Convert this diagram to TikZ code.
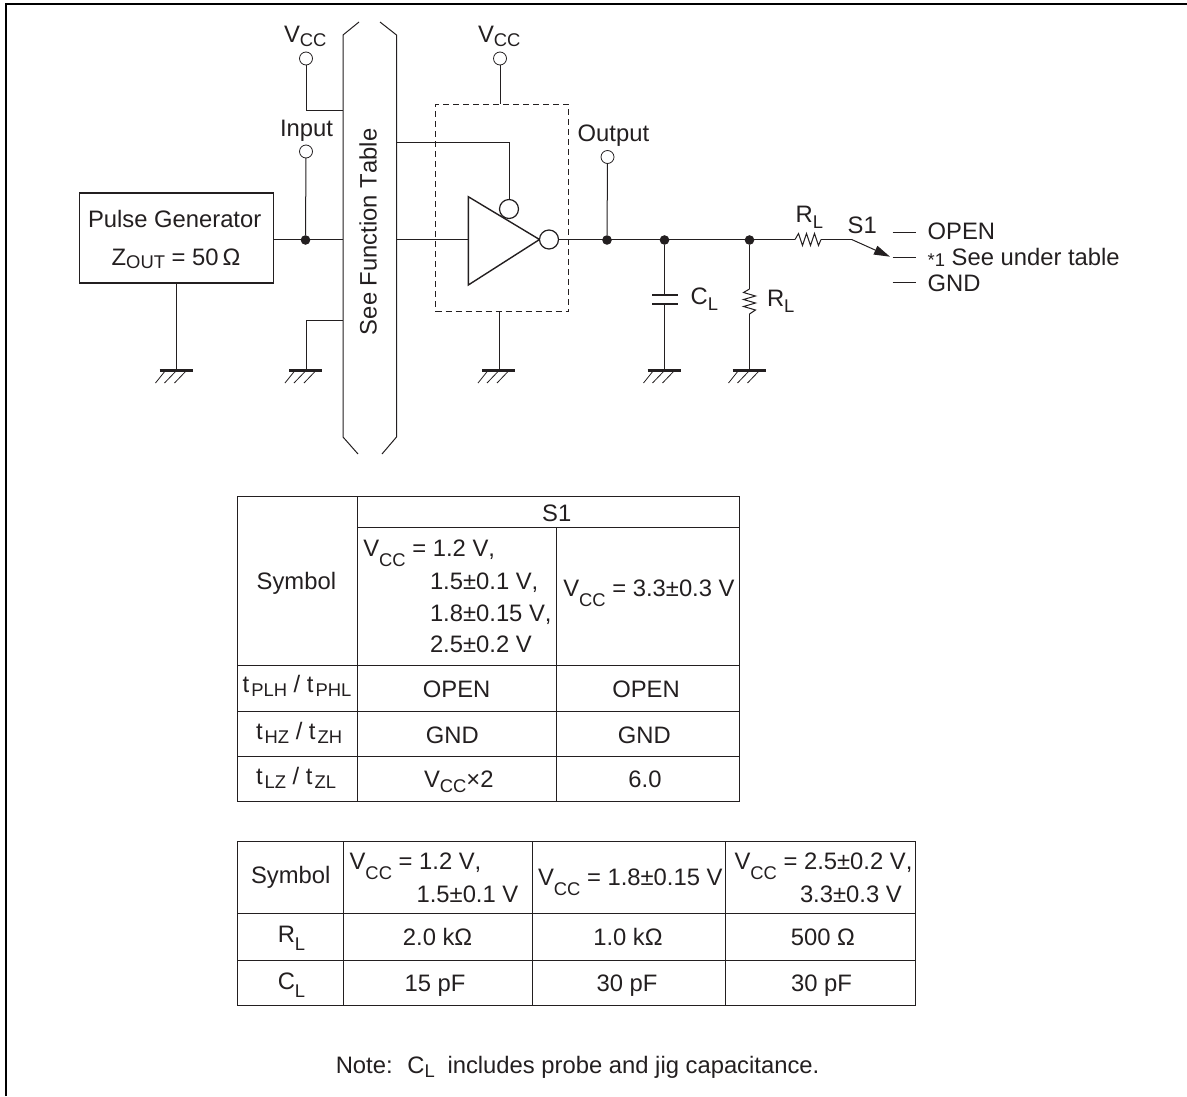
\documentclass[tikz,border=0pt]{standalone}
\usepackage{fontspec}
\setmainfont[Kerning=Off]{Liberation Sans}
\usetikzlibrary{arrows.meta}
\newdimen\pxu \pxu=.75pt
\definecolor{ink}{HTML}{231F20}
\newcommand\sbs{\fontsize{13.8pt}{14pt}\selectfont}
\newcommand\dn[2][4]{\raisebox{-#1\pxu}{\sbs #2}}
\tikzset{
  wire/.style={draw=ink,line width=.75pt},
  rule/.style={draw=ink,line width=.75pt},
  dot/.style={circle,fill=ink,draw=none,minimum size=7.2pt,inner sep=0pt,outer sep=0pt},
  term/.style={circle,draw=ink,fill=white,line width=.6pt,minimum size=9.75pt,inner sep=0pt,outer sep=0pt},
  bubble/.style={circle,draw=ink,fill=white,line width=.9pt,minimum size=14.25pt,inner sep=0pt,outer sep=0pt},
  txt/.style={inner sep=0pt,outer sep=0pt,anchor=base west,text=ink,font=\fontsize{17.85pt}{20pt}\selectfont},
  ctxt/.style={txt,anchor=base},
  gndsym/.pic={
    \draw[ink,line width=1.8pt] (-17,0) -- (16,0);
    \draw[ink,line width=.6pt] (-11,0) -- (-21,12.5) (0,0) -- (-12,12.5) (10,0) -- (-2,12.5);
  }
}
\begin{document}
\begin{tikzpicture}[x=.75pt,y=-.75pt]
\useasboundingbox (0,0) rectangle (1187,1096);
% frame
\coordinate (fa) at (6,1096); \coordinate (fb) at (6,4); \coordinate (fc) at (1187,4);
\draw[black,line width=1.5pt] (fa) -- (fb) -- (fc);

% bus
\coordinate (b1) at (359,22); \coordinate (b2) at (343,35); \coordinate (b3) at (343,437); \coordinate (b4) at (358,454);
\coordinate (b5) at (380,22); \coordinate (b6) at (396.5,35); \coordinate (b7) at (396.5,437); \coordinate (b8) at (382,454);
\draw[wire] (b1) -- (b2) -- (b3) -- (b4);
\draw[wire] (b5) -- (b6) -- (b7) -- (b8);
\node[txt,rotate=90] (seeft) at (376.7,335) {See Function Table};

% pulse generator
\node[draw=ink,line width=1.05pt,minimum width=145.5pt,minimum height=67.5pt,inner sep=0pt] (pg) at (176.5,238) {};
\node[txt] (pgt) at (88,227.7) {Pulse Generator};
\node[txt] (pgz) at (111.7,265) {Z\dn[3]{OUT} = 50\hspace{4\pxu}Ω};

% terminals and junctions
\node[term] (vcc1) at (306,58.5) {};
\node[term] (inp) at (306,151.5) {};
\node[term] (vcc2) at (500,58.5) {};
\node[term] (outp) at (607.5,157) {};
\node[dot] (j1) at (305.5,240) {};
\node[dot] (j2) at (607,240) {};
\node[dot] (j3) at (664.5,240) {};
\node[dot] (j4) at (749.5,240) {};
\node[txt] (lv1) at (284,42.3) {V\dn{CC}};
\node[txt] (lv2) at (478,42.3) {V\dn{CC}};
\node[txt] (linp) at (280,136.7) {Input};
\node[txt] (lout) at (577.7,141) {Output};

% grounds
\coordinate (g1) at (176.5,370.5);
\coordinate (g2) at (306,370.5);
\coordinate (g3) at (499,370.5);
\coordinate (g4) at (664.5,370.5);
\coordinate (g5) at (749.5,370.5);
\pic at (g1) {gndsym};
\pic at (g2) {gndsym};
\pic at (g3) {gndsym};
\pic at (g4) {gndsym};
\pic at (g5) {gndsym};

% left side wiring
\coordinate (bvcc) at (343,110);
\coordinate (bgnd) at (343,320);
\coordinate (bin) at (343,239.5);
\coordinate (ben) at (396.5,142.3);
\coordinate (bout) at (396.5,239.5);
\draw[wire] (vcc1) |- (bvcc);
\draw[wire] (inp) -- (j1);
\draw[wire] (pg.east |- bin) -- (bin);
\draw[wire] (g2) |- (bgnd);
\draw[wire] (pg.south) -- (g1);

% device
\node[draw=ink,dashed,dash pattern=on 6\pxu off 4\pxu,line width=.75pt,minimum width=99.75pt,minimum height=155.5pt,inner sep=0pt] (dut) at (502,208) {};
\coordinate (ta) at (468.3,196.7); \coordinate (tb) at (468.3,285); \coordinate (tc) at (539.5,239.5);
\draw[draw=ink,line width=1.05pt,line join=miter] (ta) -- (tb) -- (tc) -- cycle;
\node[bubble] (enb) at (509,209) {};
\node[bubble] (outb) at (549,239.5) {};
\draw[wire] (vcc2) -- (vcc2 |- dut.north);
\draw[wire] (g3 |- dut.south) -- (g3);
\draw[wire] (ben) -| (enb.north);
\coordinate (tin) at (468.3,239.5);
\draw[wire] (bout) -- (tin);

% output wiring
\coordinate (rha) at (795,239.5);
\coordinate (rhb) at (821,239.5);
\coordinate (sw) at (851.7,239.5);
\coordinate (swt) at (890,256.7);
\draw[wire] (outb.east) -- (rha);
\draw[wire] (outp) -- (j2);
\draw[wire] (rha) -- ++(3.5,-6) -- ++(4,12) -- ++(4,-12) -- ++(4,12) -- ++(4,-12) -- ++(4,12) -- (rhb);
\draw[wire] (rhb) -- (sw);
\draw[wire,-{Triangle[length=12pt,width=7pt]}] (sw) -- (swt);

% capacitor
\coordinate (ca) at (664.5,295); \coordinate (cb) at (664.5,304);
\draw[wire] (j3) -- (ca);
\draw[wire] (cb) -- (g4);
\draw[draw=ink,line width=1.05pt] (652,295) -- (678,295) (652,304) -- (678,304);
\node[txt] (lcl) at (690.7,304.3) {C\dn[6]{L}};

% resistor to ground
\coordinate (rva) at (749.5,289); \coordinate (rvb) at (749.5,314);
\draw[wire] (j4) -- (rva);
\draw[wire] (rva) -- ++(-6,3.5) -- ++(12,3.5) -- ++(-12,3.5) -- ++(12,3.5) -- ++(-12,3.5) -- ++(12,3.5) -- (rvb);
\draw[wire] (rvb) -- (g5);
\node[txt] (lrv) at (767,306.7) {R\dn[6]{L}};
\node[txt] (lrh) at (795.7,222) {R\dn[6]{L}};
\node[txt] (ls1) at (847.7,233) {S1};

% switch positions
\coordinate (p1a) at (892.7,232.7); \coordinate (p1b) at (916,232.7);
\coordinate (p2a) at (892.7,257.3); \coordinate (p2b) at (916,257.3);
\coordinate (p3a) at (892.7,282.3); \coordinate (p3b) at (916,282.3);
\draw[wire] (p1a) -- (p1b);
\draw[wire] (p2a) -- (p2b);
\draw[wire] (p3a) -- (p3b);
\node[txt] (lopen) at (927.7,239) {OPEN};
\node[txt] (lsee) at (927.7,265) {\raisebox{-1\pxu}{\sbs *1} See under table};
\node[txt] (lgnd) at (927.7,291.5) {GND};

% table 1
\draw[rule] (237.3,496.7) rectangle (739.5,801.7);
\draw[rule] (357.3,496.7) -- (357.3,801.7);
\draw[rule] (556.3,527.7) -- (556.3,801.7);
\draw[rule] (357.3,527.7) -- (739.5,527.7);
\draw[rule] (237.3,665) -- (739.5,665);
\draw[rule] (237.3,711.3) -- (739.5,711.3);
\draw[rule] (237.3,756) -- (739.5,756);
\node[ctxt] (a1) at (556.7,521.7) {S1};
\node[txt] (a2) at (256.7,589.3) {Symbol};
\node[txt] (a3) at (363.3,556.7) {V\dn[10]{CC} = 1.2 V,};
\node[txt] (a4) at (430,589.3) {1.5±0.1 V,};
\node[txt] (a5) at (430,621) {1.8±0.15 V,};
\node[txt] (a6) at (430,652.7) {2.5±0.2 V};
\node[txt] (a7) at (563.3,596.7) {V\dn[10]{CC} = 3.3±0.3 V};
\node[txt] (a8) at (242.7,692.7) {t\hspace{2\pxu}\dn{PLH} / t\hspace{2\pxu}\dn{PHL}};
\node[ctxt] (a9) at (456.7,697.3) {OPEN};
\node[ctxt] (a10) at (646,697.3) {OPEN};
\node[txt] (a11) at (256,739) {t\hspace{2\pxu}\dn{HZ} / t\hspace{2\pxu}\dn{ZH}};
\node[ctxt] (a12) at (452.3,743.3) {GND};
\node[ctxt] (a13) at (644.3,743.3) {GND};
\node[txt] (a14) at (256,784) {t\hspace{2\pxu}\dn{LZ} / t\hspace{2\pxu}\dn{ZL}};
\node[txt] (a15) at (424,787.7) {V\dn[5]{CC}×2};
\node[ctxt] (a16) at (645,787.7) {6.0};

% table 2
\draw[rule] (237,841.7) rectangle (915,1005);
\draw[rule] (343,841.7) -- (343,1005);
\draw[rule] (532,841.7) -- (532,1005);
\draw[rule] (725.5,841.7) -- (725.5,1005);
\draw[rule] (237,913.3) -- (915,913.3);
\draw[rule] (237,960) -- (915,960);
\node[txt] (c1) at (251,883.3) {Symbol};
\node[txt] (c2) at (349.6,869) {V\dn[10]{CC} = 1.2 V,};
\node[txt] (c3) at (416.6,902.3) {1.5±0.1 V};
\node[txt] (c4) at (538,885) {V\dn[10]{CC} = 1.8±0.15 V};
\node[txt] (c5) at (734.5,869) {V\dn[10]{CC} = 2.5±0.2 V,};
\node[txt] (c6) at (800,902.3) {3.3±0.3 V};
\node[txt] (c7) at (277.8,942.7) {R\dn[8]{L}};
\node[txt] (c8) at (277.8,989.3) {C\dn[8]{L}};
\node[ctxt] (c9) at (437.6,945) {2.0 kΩ};
\node[ctxt] (c10) at (628,945) {1.0 kΩ};
\node[ctxt] (c11) at (823,945) {500 Ω};
\node[ctxt] (c12) at (435,991) {15 pF};
\node[ctxt] (c13) at (627,991) {30 pF};
\node[ctxt] (c14) at (821.5,991) {30 pF};
\node[txt] (note) at (335.8,1073.3) {Note:\hspace{6\pxu} C\dn{L}\hspace{6\pxu} includes probe and jig capacitance.};
\end{tikzpicture}
\end{document}
